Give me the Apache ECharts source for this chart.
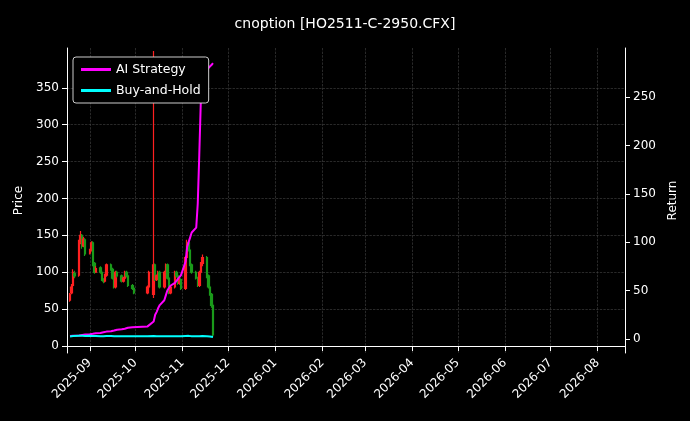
<!DOCTYPE html>
<html><head><meta charset="utf-8">
<script src="https://cdn.jsdelivr.net/npm/echarts@6/dist/echarts.min.js"></script>
<style>html,body{margin:0;background:#000}#c{width:690px;height:421px}</style>
</head><body><div id="c"></div>
<script>
const dates=['2025-08-19','2025-08-20','2025-08-21','2025-08-22','2025-08-25','2025-08-26','2025-08-27','2025-08-28','2025-08-29',
'2025-09-01','2025-09-02','2025-09-03','2025-09-04','2025-09-05','2025-09-08','2025-09-09','2025-09-10','2025-09-11','2025-09-12',
'2025-09-15','2025-09-16','2025-09-17','2025-09-18','2025-09-19','2025-09-22','2025-09-23','2025-09-24','2025-09-25','2025-09-26',
'2025-09-29','2025-09-30','2025-10-09','2025-10-10','2025-10-13','2025-10-14','2025-10-15','2025-10-16','2025-10-17',
'2025-10-20','2025-10-21','2025-10-22','2025-10-23','2025-10-24','2025-10-27','2025-10-28','2025-10-29','2025-10-30','2025-10-31',
'2025-11-03','2025-11-04','2025-11-05','2025-11-06','2025-11-07','2025-11-10','2025-11-11','2025-11-12','2025-11-13','2025-11-14',
'2025-11-17','2025-11-18','2025-11-19','2025-11-20','2025-11-21'];
const open=[62,72,82,98,96,140,150,136,144,126,130,140,112,100,106,100,91,88,96,110,104,92,80,100,95,88,92,100,95,82,78,72,80,70,110,90,95,100,80,100,110,92,72,80,100,95,85,90,78,120,140,130,110,100,92,82,100,112,120,95,80,70,55];
const close=[70,80,100,95,140,150,135,145,125,130,140,110,100,105,100,90,88,96,110,105,92,80,100,95,88,92,100,95,82,78,72,80,100,110,90,95,100,80,100,110,92,72,80,100,95,85,90,78,120,140,130,110,100,92,82,100,112,120,95,80,70,55,15];
const low=[60,70,80,92,94,138,132,134,122,124,128,108,98,100,98,88,85,86,94,102,90,78,78,93,86,86,90,93,80,76,70,70,78,65,88,88,94,78,78,98,90,70,70,78,93,83,83,76,76,118,128,108,98,90,80,80,98,108,92,78,68,52,12];
const high=[72,84,104,102,144,156,152,148,146,132,142,142,114,108,108,102,92,98,112,112,106,94,102,102,97,94,102,102,97,84,80,82,102,400,112,97,102,102,102,112,112,94,82,102,102,97,92,92,122,144,142,132,112,102,94,102,114,124,122,97,82,72,58];
const ai=[3,3,3.2,3.3,3.5,3.8,4,4.2,4.5,4.8,5,5.3,5.6,6,6.2,6.5,7,7.3,7.6,8,8.3,8.7,9,9.5,10,10.3,10.6,11,11.5,12,12.3,13,14,18,25,28,32,35,40,45,50,52,55,58,60,62,64,66,80,95,100,105,110,115,140,190,245,260,275,280,282,283,285];
const bh=[2.5,2.8,3,3,3.2,3.3,3.2,3.3,3.1,3.2,3.3,3,2.9,3,2.9,2.8,2.8,2.9,3,3,2.9,2.7,2.9,2.8,2.8,2.8,2.9,2.8,2.7,2.7,2.6,2.7,2.9,3,2.8,2.8,2.9,2.7,2.9,3,2.8,2.6,2.7,2.9,2.8,2.8,2.8,2.7,3,3.2,3.2,3,2.8,2.8,2.7,2.8,3,3,2.8,2.7,2.6,2.5,2];
const monthTicks=['2025-09-01','2025-10-01','2025-11-01','2025-12-01','2026-01-01','2026-02-01','2026-03-01','2026-04-01','2026-05-01','2026-06-01','2026-07-01','2026-08-01'];
const priceTicks=[0,50,100,150,200,250,300,350];
const retTicks=[0,50,100,150,200,250];
const ms=s=>new Date(s+'T00:00:00Z').getTime();
const mt=monthTicks.map(ms);
const grid={type:'dashed',color:'#444',width:0.6};
const ch=echarts.init(document.getElementById('c'));
ch.setOption({
backgroundColor:'#000',animation:false,
title:{text:'cnoption [HO2511-C-2950.CFX]',left:'center',top:12,textStyle:{color:'#fff',fontSize:14,fontWeight:'normal',fontFamily:'DejaVu Sans'}},
legend:{left:73,top:57,orient:'vertical',itemGap:8,backgroundColor:'#000',borderColor:'#ccc',borderWidth:1,borderRadius:3,padding:[6,8],
 textStyle:{color:'#fff',fontSize:12.5,fontFamily:'DejaVu Sans'},itemWidth:30,itemHeight:3,icon:'rect',data:['AI Strategy','Buy-and-Hold']},
grid:{left:67,right:65,top:48,bottom:68},
xAxis:{type:'value',min:ms('2025-08-17'),max:ms('2026-08-19'),
 axisLine:{lineStyle:{color:'#fff'}},
 axisTick:{customValues:mt,lineStyle:{color:'#fff'}},
 axisLabel:{customValues:mt,rotate:45,color:'#fff',fontSize:12,fontFamily:'DejaVu Sans',formatter:v=>{const d=new Date(v);return d.getUTCFullYear()+'-'+String(d.getUTCMonth()+1).padStart(2,'0');}},
 splitLine:{show:true,lineStyle:grid}},
yAxis:[{type:'value',min:-9.5,max:404,name:'Price',nameLocation:'middle',nameGap:42,nameTextStyle:{color:'#fff',fontSize:12,fontFamily:'DejaVu Sans'},
 axisLine:{show:true,lineStyle:{color:'#fff'}},axisTick:{show:true,customValues:priceTicks,lineStyle:{color:'#fff'}},
 axisLabel:{customValues:priceTicks,color:'#fff',fontSize:12,fontFamily:'DejaVu Sans'},splitLine:{show:true,lineStyle:grid}},
 {type:'value',min:-14.5,max:300.6,name:'Return',nameLocation:'middle',nameGap:42,nameTextStyle:{color:'#fff',fontSize:12,fontFamily:'DejaVu Sans'},
 axisLine:{show:true,lineStyle:{color:'#fff'}},axisTick:{show:true,customValues:retTicks,lineStyle:{color:'#fff'}},
 axisLabel:{customValues:retTicks,color:'#fff',fontSize:12,fontFamily:'DejaVu Sans'},splitLine:{show:false}}],
series:[
{type:'candlestick',yAxisIndex:0,barWidth:2,data:dates.map((d,i)=>[ms(d),open[i],close[i],low[i],high[i]]),
 itemStyle:{color:'#ff2020',color0:'#1a9a1a',borderColor:'#ff2020',borderColor0:'#1a9a1a',borderWidth:1.2}},
{name:'AI Strategy',type:'line',yAxisIndex:1,showSymbol:false,data:dates.map((d,i)=>[ms(d),ai[i]]),lineStyle:{color:'#ff00ff',width:2},itemStyle:{color:'#ff00ff'}},
{name:'Buy-and-Hold',type:'line',yAxisIndex:1,showSymbol:false,data:dates.map((d,i)=>[ms(d),bh[i]]),lineStyle:{color:'#00ffff',width:2},itemStyle:{color:'#00ffff'}}
]});
</script></body></html>
